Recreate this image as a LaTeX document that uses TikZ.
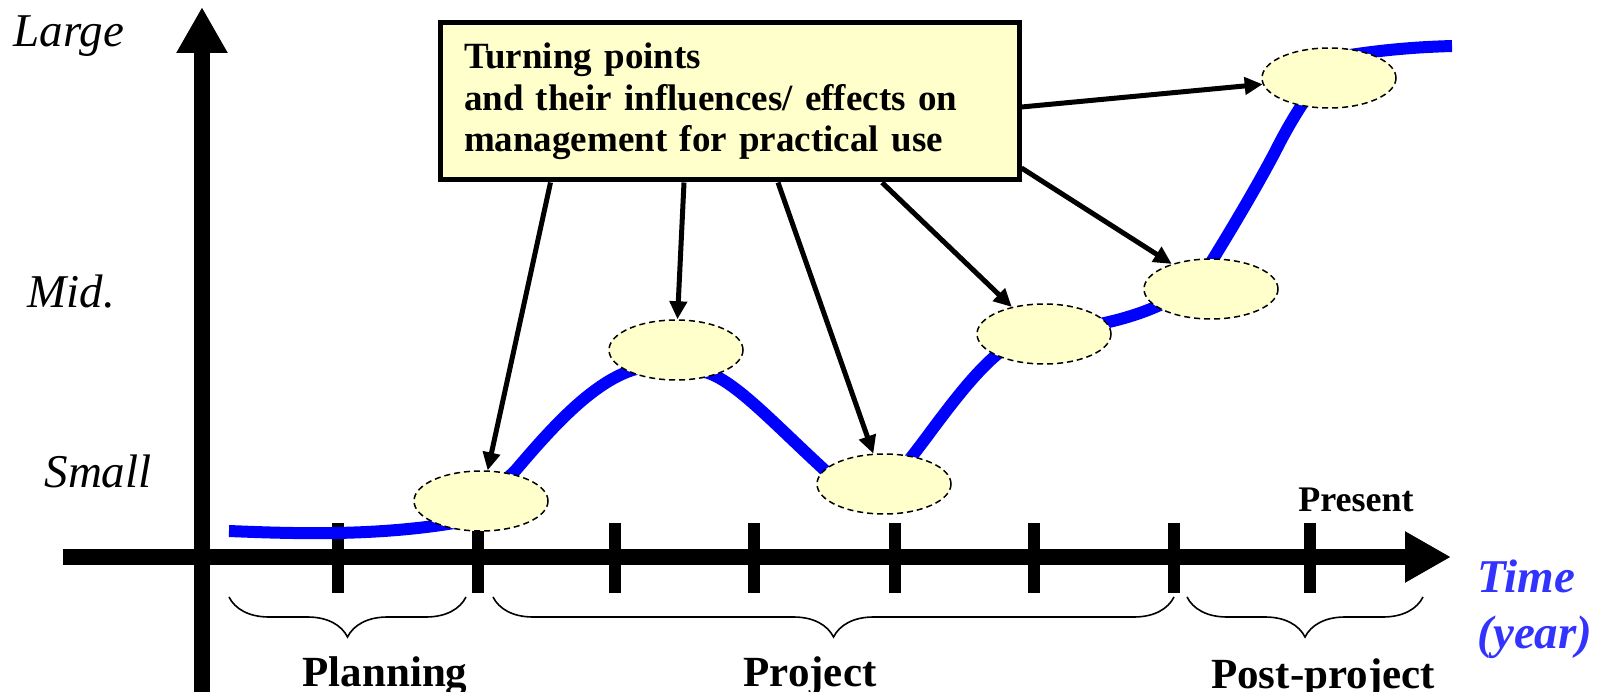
\documentclass[tikz,border=0pt]{standalone}
\usepackage{fontspec}
\setmainfont{Liberation Serif}
\usetikzlibrary{arrows.meta,shapes.geometric,decorations.pathreplacing}
\definecolor{boxfill}{HTML}{FFFFCC}
\definecolor{curveblue}{HTML}{0000FF}
\definecolor{timeblue}{HTML}{3333FF}
\begin{document}
\begin{tikzpicture}[x=1pt,y=-1pt,
  axisline/.style={line width=16pt,-{Triangle[length=46pt,width=48pt]}},
  tickmark/.style={line width=12pt},
  curve/.style={line width=12pt,curveblue,line join=round},
  tp/.style={ellipse,draw,dash pattern=on 6pt off 4pt,line width=1.5pt,fill=boxfill,minimum width=134pt,minimum height=60pt,inner sep=0pt},
  conn/.style={line width=5pt,-{Triangle[length=18pt,width=17pt]}},
  bracepath/.style={decorate,decoration={brace,amplitude=40pt},line width=1.6pt},
  level/.style={anchor=base west,font=\fontsize{47pt}{50pt}\selectfont\itshape},
  phase/.style={anchor=base,font=\fontsize{43pt}{46pt}\selectfont\bfseries},
  timelab/.style={anchor=base west,text=timeblue,font=\fontsize{47pt}{50pt}\selectfont\bfseries\itshape},
  mainbox/.style={draw,line width=5pt,fill=boxfill,minimum width=579pt,minimum height=157pt,text width=531pt,inner xsep=24pt,inner ysep=0pt,align=left,font=\fontsize{37pt}{41.5pt}\selectfont\bfseries}
]
\useasboundingbox (0,0) rectangle (1605,692);
% axes
\draw[axisline] (63,557) -- (1451,557);
\draw[axisline] (202,700) -- (202,7);
% ticks
\foreach \x in {338,478,615,754,895,1034,1174,1310}
  \draw[tickmark] (\x,523) -- (\x,593);
% curve
\draw[curve] (229,531) .. controls (300,534) and (380,536) .. (460,522)
  -- (515,471) .. controls (550,430) and (595,378) .. (640,368)
  -- (705,372) .. controls (735,380) and (775,425) .. (830,475)
  -- (905,465) .. controls (930,435) and (965,380) .. (1000,352)
  -- (1095,325) .. controls (1120,320) and (1140,314) .. (1160,305)
  -- (1205,272) .. controls (1225,240) and (1255,190) .. (1275,152)
  .. controls (1285,132) and (1295,115) .. (1305,100)
  -- (1350,55) .. controls (1390,49) and (1420,47) .. (1452,46);
% turning points
\node[tp] (e1) at (481,501) {};
\node[tp] (e2) at (676,350) {};
\node[tp] (e3) at (884,484) {};
\node[tp] (e4) at (1044,334) {};
\node[tp] (e5) at (1211,289) {};
\node[tp] (e6) at (1329,78) {};
% box
\node[mainbox] (box) at (729.5,101.5) {Turning points\\and their influences/ effects on\\management for practical use};
% connectors
\draw[conn] ([xshift=113pt]box.south west) -- (e1);
\draw[conn] ([xshift=246.5pt]box.south west) -- (e2);
\draw[conn] ([xshift=340.5pt]box.south west) -- (e3);
\draw[conn] ([xshift=444.5pt]box.south west) -- (e4.140);
\draw[conn] ([yshift=14.5pt]box.south east) -- (e5);
\draw[conn] ([yshift=-5.5pt]box.east) -- (e6);
% braces
\draw[bracepath] (466,597) -- (229,597);
\draw[bracepath] (1174,597) -- (493,597);
\draw[bracepath] (1423,597) -- (1187,597);
% labels
\node[level] (lg) at (10,47) {Large};
\node[level] (md) at (24,308) {Mid.};
\node[level] (sm) at (41,487) {Small};
\node[anchor=base,font=\fontsize{36pt}{40pt}\selectfont\bfseries] (pr) at (1356,511) {Present};
\node[phase] (pl) at (385,686) {Planning};
\node[phase] (pj) at (810,686) {Project};
\node[phase] (pp) at (1323,688) {Post-project};
\node[timelab] (tm) at (1474,592) {Time};
\node[timelab] (yr) at (1474,648) {(year)};
\end{tikzpicture}
\end{document}
